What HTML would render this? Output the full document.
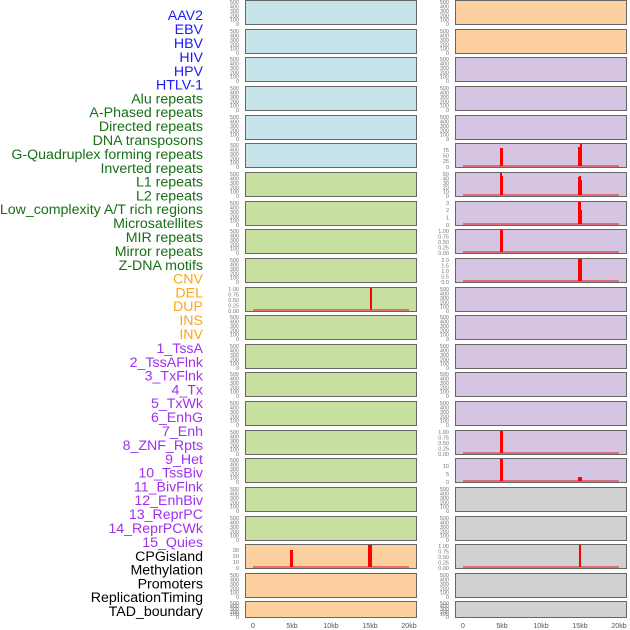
<!DOCTYPE html>
<html><head><meta charset="utf-8"><style>
html,body{margin:0;padding:0;background:#fff;}
svg{display:block;font-family:"Liberation Sans",sans-serif;}
.lab{font-size:14.2px;text-anchor:end;}
.t text{font-size:5.5px;fill:#777;text-anchor:end;}
.ax{font-size:7px;fill:#555;text-anchor:middle;}
.pl{stroke:#666;stroke-width:1;}
.b{fill:#c8e4eb}.g{fill:#c7e0a1}.o{fill:#fdd09f}.p{fill:#d5c4e2}.y{fill:#d1d1d1}
.base{stroke:#d33;stroke-opacity:.6;stroke-width:2;}
.bar{fill:#f00;}
</style></head><body>
<svg width="630" height="630" viewBox="0 0 630 630">
<g class="lab">
<text x="203" y="20" fill="#1a1aff">AAV2</text>
<text x="203" y="34" fill="#1a1aff">EBV</text>
<text x="203" y="48" fill="#1a1aff">HBV</text>
<text x="203" y="62" fill="#1a1aff">HIV</text>
<text x="203" y="76" fill="#1a1aff">HPV</text>
<text x="203" y="89.5" fill="#1a1aff">HTLV-1</text>
<g fill="#167016">
<text x="203" y="103.5">Alu repeats</text>
<text x="203" y="117">A-Phased repeats</text>
<text x="203" y="131">Directed repeats</text>
<text x="203" y="145">DNA transposons</text>
<text x="203" y="159">G-Quadruplex forming repeats</text>
<text x="203" y="173">Inverted repeats</text>
<text x="203" y="186.5">L1 repeats</text>
<text x="203" y="200.5">L2 repeats</text>
<text x="203" y="214">Low_complexity A/T rich regions</text>
<text x="203" y="228">Microsatellites</text>
<text x="203" y="242">MIR repeats</text>
<text x="203" y="256">Mirror repeats</text>
<text x="203" y="270">Z-DNA motifs</text>
</g>
<g fill="#ffa51a">
<text x="203" y="283.5">CNV</text>
<text x="203" y="297.5">DEL</text>
<text x="203" y="311">DUP</text>
<text x="203" y="325">INS</text>
<text x="203" y="339">INV</text>
</g>
<g fill="#a030f0">
<text x="203" y="353">1_TssA</text>
<text x="203" y="367">2_TssAFlnk</text>
<text x="203" y="380.5">3_TxFlnk</text>
<text x="203" y="394.5">4_Tx</text>
<text x="203" y="408">5_TxWk</text>
<text x="203" y="422">6_EnhG</text>
<text x="203" y="436">7_Enh</text>
<text x="203" y="450">8_ZNF_Rpts</text>
<text x="203" y="464">9_Het</text>
<text x="203" y="477.5">10_TssBiv</text>
<text x="203" y="491.5">11_BivFlnk</text>
<text x="203" y="505">12_EnhBiv</text>
<text x="203" y="519">13_ReprPC</text>
<text x="203" y="533">14_ReprPCWk</text>
<text x="203" y="547">15_Quies</text>
</g>
<g fill="#000">
<text x="203" y="561">CPGisland</text>
<text x="203" y="574.5">Methylation</text>
<text x="203" y="588.5">Promoters</text>
<text x="203" y="602">ReplicationTiming</text>
<text x="203" y="616">TAD_boundary</text>
</g>
</g>

<g class="t">
<g transform="translate(0,0)"><text x="239" y="4">500</text><text x="239" y="8.5">400</text><text x="239" y="13">300</text><text x="239" y="17.5">200</text><text x="239" y="21.5">100</text><text x="239" y="26">0</text><text x="449" y="4">500</text><text x="449" y="8.5">400</text><text x="449" y="13">300</text><text x="449" y="17.5">200</text><text x="449" y="21.5">100</text><text x="449" y="26">0</text></g>
<g transform="translate(0,29)"><text x="239" y="4">500</text><text x="239" y="8.5">400</text><text x="239" y="13">300</text><text x="239" y="17.5">200</text><text x="239" y="21.5">100</text><text x="239" y="26">0</text><text x="449" y="4">500</text><text x="449" y="8.5">400</text><text x="449" y="13">300</text><text x="449" y="17.5">200</text><text x="449" y="21.5">100</text><text x="449" y="26">0</text></g>
<g transform="translate(0,57)"><text x="239" y="4">500</text><text x="239" y="8.5">400</text><text x="239" y="13">300</text><text x="239" y="17.5">200</text><text x="239" y="21.5">100</text><text x="239" y="26">0</text><text x="449" y="4">500</text><text x="449" y="8.5">400</text><text x="449" y="13">300</text><text x="449" y="17.5">200</text><text x="449" y="21.5">100</text><text x="449" y="26">0</text></g>
<g transform="translate(0,86)"><text x="239" y="4">500</text><text x="239" y="8.5">400</text><text x="239" y="13">300</text><text x="239" y="17.5">200</text><text x="239" y="21.5">100</text><text x="239" y="26">0</text><text x="449" y="4">500</text><text x="449" y="8.5">400</text><text x="449" y="13">300</text><text x="449" y="17.5">200</text><text x="449" y="21.5">100</text><text x="449" y="26">0</text></g>
<g transform="translate(0,115)"><text x="239" y="4">500</text><text x="239" y="8.5">400</text><text x="239" y="13">300</text><text x="239" y="17.5">200</text><text x="239" y="21.5">100</text><text x="239" y="26">0</text><text x="449" y="4">500</text><text x="449" y="8.5">400</text><text x="449" y="13">300</text><text x="449" y="17.5">200</text><text x="449" y="21.5">100</text><text x="449" y="26">0</text></g>
<g transform="translate(0,143)"><text x="239" y="4">500</text><text x="239" y="8.5">400</text><text x="239" y="13">300</text><text x="239" y="17.5">200</text><text x="239" y="21.5">100</text><text x="239" y="26">0</text><text x="449" y="9">75</text><text x="449" y="14.5">50</text><text x="449" y="20">25</text><text x="449" y="26">0</text></g>
<g transform="translate(0,172)"><text x="239" y="4">500</text><text x="239" y="8.5">400</text><text x="239" y="13">300</text><text x="239" y="17.5">200</text><text x="239" y="21.5">100</text><text x="239" y="26">0</text><text x="449" y="4">50</text><text x="449" y="8.5">40</text><text x="449" y="13">30</text><text x="449" y="17.5">20</text><text x="449" y="21.5">10</text><text x="449" y="26">0</text></g>
<g transform="translate(0,201)"><text x="239" y="4">500</text><text x="239" y="8.5">400</text><text x="239" y="13">300</text><text x="239" y="17.5">200</text><text x="239" y="21.5">100</text><text x="239" y="26">0</text><text x="449" y="4">3</text><text x="449" y="11">2</text><text x="449" y="18.5">1</text><text x="449" y="26">0</text></g>
<g transform="translate(0,229)"><text x="239" y="4">500</text><text x="239" y="8.5">400</text><text x="239" y="13">300</text><text x="239" y="17.5">200</text><text x="239" y="21.5">100</text><text x="239" y="26">0</text><text x="449" y="4">1.00</text><text x="449" y="9.5">0.75</text><text x="449" y="15">0.50</text><text x="449" y="20.5">0.25</text><text x="449" y="26">0.00</text></g>
<g transform="translate(0,258)"><text x="239" y="4">500</text><text x="239" y="8.5">400</text><text x="239" y="13">300</text><text x="239" y="17.5">200</text><text x="239" y="21.5">100</text><text x="239" y="26">0</text><text x="449" y="4">2.0</text><text x="449" y="9.5">1.5</text><text x="449" y="15">1.0</text><text x="449" y="20.5">0.5</text><text x="449" y="26">0.0</text></g>
<g transform="translate(0,287)"><text x="239" y="4">1.00</text><text x="239" y="9.5">0.75</text><text x="239" y="15">0.50</text><text x="239" y="20.5">0.25</text><text x="239" y="26">0.00</text><text x="449" y="4">500</text><text x="449" y="8.5">400</text><text x="449" y="13">300</text><text x="449" y="17.5">200</text><text x="449" y="21.5">100</text><text x="449" y="26">0</text></g>
<g transform="translate(0,315)"><text x="239" y="4">500</text><text x="239" y="8.5">400</text><text x="239" y="13">300</text><text x="239" y="17.5">200</text><text x="239" y="21.5">100</text><text x="239" y="26">0</text><text x="449" y="4">500</text><text x="449" y="8.5">400</text><text x="449" y="13">300</text><text x="449" y="17.5">200</text><text x="449" y="21.5">100</text><text x="449" y="26">0</text></g>
<g transform="translate(0,344)"><text x="239" y="4">500</text><text x="239" y="8.5">400</text><text x="239" y="13">300</text><text x="239" y="17.5">200</text><text x="239" y="21.5">100</text><text x="239" y="26">0</text><text x="449" y="4">500</text><text x="449" y="8.5">400</text><text x="449" y="13">300</text><text x="449" y="17.5">200</text><text x="449" y="21.5">100</text><text x="449" y="26">0</text></g>
<g transform="translate(0,372)"><text x="239" y="4">500</text><text x="239" y="8.5">400</text><text x="239" y="13">300</text><text x="239" y="17.5">200</text><text x="239" y="21.5">100</text><text x="239" y="26">0</text><text x="449" y="4">500</text><text x="449" y="8.5">400</text><text x="449" y="13">300</text><text x="449" y="17.5">200</text><text x="449" y="21.5">100</text><text x="449" y="26">0</text></g>
<g transform="translate(0,401)"><text x="239" y="4">500</text><text x="239" y="8.5">400</text><text x="239" y="13">300</text><text x="239" y="17.5">200</text><text x="239" y="21.5">100</text><text x="239" y="26">0</text><text x="449" y="4">500</text><text x="449" y="8.5">400</text><text x="449" y="13">300</text><text x="449" y="17.5">200</text><text x="449" y="21.5">100</text><text x="449" y="26">0</text></g>
<g transform="translate(0,430)"><text x="239" y="4">500</text><text x="239" y="8.5">400</text><text x="239" y="13">300</text><text x="239" y="17.5">200</text><text x="239" y="21.5">100</text><text x="239" y="26">0</text><text x="449" y="4">1.00</text><text x="449" y="9.5">0.75</text><text x="449" y="15">0.50</text><text x="449" y="20.5">0.25</text><text x="449" y="26">0.00</text></g>
<g transform="translate(0,458)"><text x="239" y="4">500</text><text x="239" y="8.5">400</text><text x="239" y="13">300</text><text x="239" y="17.5">200</text><text x="239" y="21.5">100</text><text x="239" y="26">0</text><text x="449" y="10">10</text><text x="449" y="18">5</text><text x="449" y="26">0</text></g>
<g transform="translate(0,487)"><text x="239" y="4">500</text><text x="239" y="8.5">400</text><text x="239" y="13">300</text><text x="239" y="17.5">200</text><text x="239" y="21.5">100</text><text x="239" y="26">0</text><text x="449" y="4">500</text><text x="449" y="8.5">400</text><text x="449" y="13">300</text><text x="449" y="17.5">200</text><text x="449" y="21.5">100</text><text x="449" y="26">0</text></g>
<g transform="translate(0,516)"><text x="239" y="4">500</text><text x="239" y="8.5">400</text><text x="239" y="13">300</text><text x="239" y="17.5">200</text><text x="239" y="21.5">100</text><text x="239" y="26">0</text><text x="449" y="4">500</text><text x="449" y="8.5">400</text><text x="449" y="13">300</text><text x="449" y="17.5">200</text><text x="449" y="21.5">100</text><text x="449" y="26">0</text></g>
<g transform="translate(0,544)"><text x="239" y="8">30</text><text x="239" y="14">20</text><text x="239" y="20">10</text><text x="239" y="26">0</text><text x="449" y="4">1.00</text><text x="449" y="9.5">0.75</text><text x="449" y="15">0.50</text><text x="449" y="20.5">0.25</text><text x="449" y="26">0.00</text></g>
<g transform="translate(0,573)"><text x="239" y="4">500</text><text x="239" y="8.5">400</text><text x="239" y="13">300</text><text x="239" y="17.5">200</text><text x="239" y="21.5">100</text><text x="239" y="26">0</text><text x="449" y="4">500</text><text x="449" y="8.5">400</text><text x="449" y="13">300</text><text x="449" y="17.5">200</text><text x="449" y="21.5">100</text><text x="449" y="26">0</text></g>
<g transform="translate(0,601)"><text x="239" y="4">500</text><text x="239" y="7">400</text><text x="239" y="10">300</text><text x="239" y="13">200</text><text x="239" y="15">100</text><text x="239" y="18">0</text><text x="449" y="4">500</text><text x="449" y="7">400</text><text x="449" y="10">300</text><text x="449" y="13">200</text><text x="449" y="15">100</text><text x="449" y="18">0</text></g>
</g>

<g class="pl">
<rect class="b" x="245.5" y="0.5" width="171" height="24"/><rect class="o" x="455.5" y="0.5" width="171" height="24"/>
<rect class="b" x="245.5" y="29.5" width="171" height="24"/><rect class="o" x="455.5" y="29.5" width="171" height="24"/>
<rect class="b" x="245.5" y="57.5" width="171" height="24"/><rect class="p" x="455.5" y="57.5" width="171" height="24"/>
<rect class="b" x="245.5" y="86.5" width="171" height="24"/><rect class="p" x="455.5" y="86.5" width="171" height="24"/>
<rect class="b" x="245.5" y="115.5" width="171" height="24"/><rect class="p" x="455.5" y="115.5" width="171" height="24"/>
<rect class="b" x="245.5" y="143.5" width="171" height="24"/><rect class="p" x="455.5" y="143.5" width="171" height="24"/>
<rect class="g" x="245.5" y="172.5" width="171" height="24"/><rect class="p" x="455.5" y="172.5" width="171" height="24"/>
<rect class="g" x="245.5" y="201.5" width="171" height="24"/><rect class="p" x="455.5" y="201.5" width="171" height="24"/>
<rect class="g" x="245.5" y="229.5" width="171" height="24"/><rect class="p" x="455.5" y="229.5" width="171" height="24"/>
<rect class="g" x="245.5" y="258.5" width="171" height="24"/><rect class="p" x="455.5" y="258.5" width="171" height="24"/>
<rect class="g" x="245.5" y="287.5" width="171" height="24"/><rect class="p" x="455.5" y="287.5" width="171" height="24"/>
<rect class="g" x="245.5" y="315.5" width="171" height="24"/><rect class="p" x="455.5" y="315.5" width="171" height="24"/>
<rect class="g" x="245.5" y="344.5" width="171" height="24"/><rect class="p" x="455.5" y="344.5" width="171" height="24"/>
<rect class="g" x="245.5" y="372.5" width="171" height="24"/><rect class="p" x="455.5" y="372.5" width="171" height="24"/>
<rect class="g" x="245.5" y="401.5" width="171" height="24"/><rect class="p" x="455.5" y="401.5" width="171" height="24"/>
<rect class="g" x="245.5" y="430.5" width="171" height="24"/><rect class="p" x="455.5" y="430.5" width="171" height="24"/>
<rect class="g" x="245.5" y="458.5" width="171" height="24"/><rect class="p" x="455.5" y="458.5" width="171" height="24"/>
<rect class="g" x="245.5" y="487.5" width="171" height="24"/><rect class="y" x="455.5" y="487.5" width="171" height="24"/>
<rect class="g" x="245.5" y="516.5" width="171" height="24"/><rect class="y" x="455.5" y="516.5" width="171" height="24"/>
<rect class="o" x="245.5" y="544.5" width="171" height="24"/><rect class="y" x="455.5" y="544.5" width="171" height="24"/>
<rect class="o" x="245.5" y="573.5" width="171" height="24"/><rect class="y" x="455.5" y="573.5" width="171" height="24"/>
<rect class="o" x="245.5" y="601.5" width="171" height="16"/><rect class="y" x="455.5" y="601.5" width="171" height="16"/>
</g>

<g>
<line class="base" x1="253" y1="310" x2="409" y2="310"/><rect class="bar" x="370" y="288" width="2" height="22"/>
<line class="base" x1="253" y1="567" x2="409" y2="567"/><rect class="bar" x="290" y="550" width="3" height="17"/><rect class="bar" x="368" y="545" width="4" height="22"/>
<line class="base" x1="463" y1="166" x2="619" y2="166"/><rect class="bar" x="500" y="148" width="3" height="18"/><rect class="bar" x="578" y="147" width="2" height="19"/><rect class="bar" x="580" y="144" width="2" height="22"/>
<line class="base" x1="463" y1="195" x2="619" y2="195"/><rect class="bar" x="500" y="173" width="2" height="22"/><rect class="bar" x="501" y="176" width="2" height="19"/><rect class="bar" x="578" y="177" width="2" height="18"/><rect class="bar" x="579" y="176" width="2" height="19"/><rect class="bar" x="580" y="180" width="2" height="15"/>
<line class="base" x1="463" y1="224" x2="619" y2="224"/><rect class="bar" x="578" y="202" width="3" height="22"/><rect class="bar" x="580" y="210" width="2" height="14"/>
<line class="base" x1="463" y1="252" x2="619" y2="252"/><rect class="bar" x="500" y="230" width="3" height="22"/>
<line class="base" x1="463" y1="281" x2="619" y2="281"/><rect class="bar" x="578" y="259" width="4" height="22"/>
<line class="base" x1="463" y1="453" x2="619" y2="453"/><rect class="bar" x="500" y="431" width="3" height="22"/>
<line class="base" x1="463" y1="481" x2="619" y2="481"/><rect class="bar" x="500" y="459" width="3" height="22"/><rect class="bar" x="578" y="477" width="4" height="4"/>
<line class="base" x1="463" y1="567" x2="619" y2="567"/><rect class="bar" x="579" y="545" width="2" height="22"/>
</g>

<g class="ax">
<text x="253" y="628">0</text><text x="292" y="628">5kb</text><text x="331" y="628">10kb</text><text x="370" y="628">15kb</text><text x="409" y="628">20kb</text>
<text x="463" y="628">0</text><text x="502" y="628">5kb</text><text x="541" y="628">10kb</text><text x="580" y="628">15kb</text><text x="619" y="628">20kb</text>
</g>
</svg>
</body></html>
